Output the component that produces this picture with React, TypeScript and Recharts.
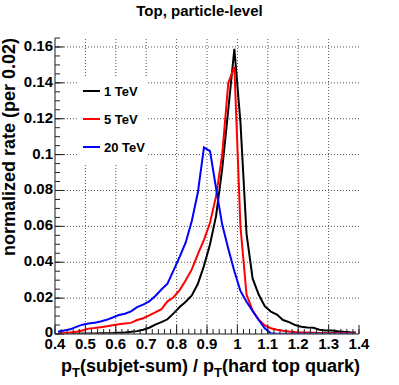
import { LineChart, Line, XAxis, YAxis, Legend, Label } from "recharts";

// bin centres, bin width 0.02
const binCenters = [
  0.41, 0.43, 0.45, 0.47, 0.49, 0.51, 0.53, 0.55, 0.57, 0.59,
  0.61, 0.63, 0.65, 0.67, 0.69, 0.71, 0.73, 0.75, 0.77, 0.79,
  0.81, 0.83, 0.85, 0.87, 0.89, 0.91, 0.93, 0.95, 0.97, 0.99,
  1.01, 1.03, 1.05, 1.07, 1.09, 1.11, 1.13, 1.15, 1.17, 1.19,
  1.21, 1.23, 1.25, 1.27, 1.29, 1.31, 1.33, 1.35, 1.37, 1.39,
];

const tev1 = [
  0.0002, 0.0002, 0.0002, 0.0002, 0.0003, 0.0003, 0.0003, 0.0004, 0.0004, 0.0005,
  0.0007, 0.0009, 0.0012, 0.0016, 0.0024, 0.0035, 0.0052, 0.0066, 0.0082, 0.0115,
  0.015, 0.018, 0.0215, 0.028, 0.038, 0.05, 0.066, 0.092, 0.125, 0.159,
  0.118, 0.056, 0.031, 0.022, 0.0155, 0.0125, 0.0108, 0.0078, 0.0066, 0.005,
  0.004, 0.0036, 0.0035, 0.0024, 0.002, 0.0019, 0.0015, 0.0012, 0.001, 0.0009,
];

const tev5 = [
  0.0003, 0.0005, 0.0008, 0.0013, 0.002, 0.003, 0.0033, 0.0038, 0.0043, 0.0049,
  0.0054, 0.0059, 0.0062, 0.0078, 0.0088, 0.0104, 0.012, 0.0138, 0.0182, 0.0205,
  0.0245, 0.03, 0.036, 0.0445, 0.0525, 0.062, 0.077, 0.1, 0.14, 0.149,
  0.06, 0.022, 0.013, 0.008, 0.0048, 0.0032, 0.0024, 0.0018, 0.0014, 0.0011,
  0.0009, 0.0008, 0.0007, 0.0006, 0.0006, 0.0005, 0.0005, 0.0004, 0.0004, 0.0004,
];

const tev20 = [
  0.0012, 0.0019, 0.0026, 0.004, 0.0052, 0.0058, 0.0063, 0.007, 0.0079, 0.0092,
  0.0106, 0.0113, 0.0126, 0.015, 0.0164, 0.0182, 0.0212, 0.0248, 0.028, 0.0355,
  0.043, 0.051, 0.063, 0.079, 0.104, 0.102, 0.081, 0.061, 0.0475, 0.035,
  0.024, 0.018, 0.0128, 0.0078, 0.0032, 0.0004, 0.0001, 0.0001, 0.0001, 0.0001,
  0.0001, 0.0001, 0.0001, 0.0001, 0.0001, 0.0001, 0.0001, 0.0001, 0.0001, 0.0001,
];

const xMajorTicks = [0.4, 0.5, 0.6, 0.7, 0.8, 0.9, 1, 1.1, 1.2, 1.3, 1.4];
const yMajorTicks = [0, 0.02, 0.04, 0.06, 0.08, 0.1, 0.12, 0.14, 0.16];

// minor tick positions (ROOT style: 5 per x division, 4 per y division)
const xTicks = Array.from({ length: 51 }, (_, i) => +(0.4 + i * 0.02).toFixed(2));
const yTicks = Array.from({ length: 34 }, (_, i) => +(i * 0.005).toFixed(3));

const X_DOMAIN = [0.4, 1.4];
const Y_DOMAIN = [0, 0.165];

const series = [
  { key: "tev1", name: "1 TeV", color: "#000000" },
  { key: "tev5", name: "5 TeV", color: "#ff0000" },
  { key: "tev20", name: "20 TeV", color: "#0000ff" },
];

const data = binCenters.map((x, i) => ({ x, tev1: tev1[i], tev5: tev5[i], tev20: tev20[i] }));

// dotted grid at the major divisions, drawn as two-point series through the axes' scales
const hGrid = yMajorTicks.slice(1).map((v) => [{ x: X_DOMAIN[0], g: v }, { x: X_DOMAIN[1], g: v }]);
const vGrid = xMajorTicks.slice(1, -1).map((v) => [{ x: v, g: Y_DOMAIN[0] }, { x: v, g: Y_DOMAIN[1] }]);

const FONT = "'Liberation Sans', Arial, Helvetica, sans-serif";
const TICK = "#222";
const FRAME = "#666";
const GRID = "#555";

const isMajor = (list: number[], v: number) => list.some((m) => Math.abs(m - v) < 1e-6);

const BottomTick = (props: any) => {
  const x = Number(props.x);
  const y = Number(props.y);
  const v = props.payload.value;
  if (!isMajor(xMajorTicks, v)) return <g />;
  return (
    <g>
      <path d={`M${x},${y}V${y - 9}`} fill="none" stroke={TICK} strokeWidth={1} />
      <text x={x} y={y + 15} textAnchor="middle" fontFamily={FONT} fontWeight="bold" fontSize={15} fill="#000">
        {String(v)}
      </text>
    </g>
  );
};

const LeftTick = (props: any) => {
  const x = Number(props.x);
  const y = Number(props.y);
  const v = props.payload.value;
  if (!isMajor(yMajorTicks, v)) return <g />;
  return (
    <g>
      <path d={`M${x},${y}H${x + 9}`} fill="none" stroke={TICK} strokeWidth={1} />
      <text x={x - 2} y={y + (v === 0 ? 3 : 4)} textAnchor="end" fontFamily={FONT} fontWeight="bold" fontSize={15} fill="#000">
        {String(v)}
      </text>
    </g>
  );
};

const YTitle = ({ viewBox }: any) => {
  const tx = 15;
  const ty = viewBox.y;
  return (
    <text
      x={tx}
      y={ty}
      transform={`rotate(-90, ${tx}, ${ty})`}
      textAnchor="end"
      fontFamily={FONT}
      fontWeight="bold"
      fontSize={18}
      fill="#000"
    >
      normalized rate (per 0.02)
    </text>
  );
};

const XTitle = ({ viewBox }: any) => {
  const tx = viewBox.x + viewBox.width + 1;
  const ty = 372;
  return (
    <text x={tx} y={ty} textAnchor="end" fontFamily={FONT} fontWeight="bold" fontSize={18} fill="#000">
      <tspan>p</tspan>
      <tspan fontSize={13} dy={5}>T</tspan>
      <tspan dy={-5}>(subjet-sum) / p</tspan>
      <tspan fontSize={13} dy={5}>T</tspan>
      <tspan dy={-5}>(hard top quark)</tspan>
    </text>
  );
};

const LegendBox = () => (
  <div style={{ background: "#fff", width: 70, height: 86 }}>
    {series.map((s) => (
      <div key={s.key} style={{ height: 28, display: "flex", alignItems: "center" }}>
        <span style={{ display: "inline-block", width: 17, height: 2, background: s.color, marginLeft: 5, marginRight: 4 }} />
        <span style={{ fontFamily: FONT, fontWeight: "bold", fontSize: 13, color: "#000" }}>{s.name}</span>
      </div>
    ))}
  </div>
);

export default function App() {
  return (
    <div style={{ position: "absolute", left: 0, top: 0, width: 399, height: 385, background: "#fff" }}>
      <div
        style={{
          position: "absolute",
          top: 3,
          left: 0,
          width: 399,
          textAlign: "center",
          fontFamily: FONT,
          fontWeight: "bold",
          fontSize: 15,
          lineHeight: "15px",
          zIndex: 2,
        }}
      >
        Top, particle-level
      </div>
      <LineChart width={399} height={385} data={data} margin={{ top: 38, right: 40, left: 10, bottom: 0 }}>
        <XAxis
          xAxisId="b"
          dataKey="x"
          type="number"
          domain={X_DOMAIN}
          ticks={xTicks}
          interval={0}
          tick={(p: any) => <BottomTick {...p} />}
          tickLine={{ stroke: TICK }}
          tickSize={-5}
          tickMargin={5}
          height={51}
          axisLine={{ stroke: FRAME, strokeWidth: 1.5 }}
          allowDataOverflow
        >
          <Label content={<XTitle />} />
        </XAxis>
        <XAxis
          xAxisId="t"
          orientation="top"
          dataKey="x"
          type="number"
          domain={X_DOMAIN}
          ticks={xTicks}
          interval={0}
          tick={false}
          tickLine={{ stroke: TICK }}
          tickSize={-5}
          height={0}
          axisLine={{ stroke: FRAME, strokeWidth: 1.5 }}
          allowDataOverflow
        />
        <YAxis
          yAxisId="l"
          type="number"
          domain={Y_DOMAIN}
          ticks={yTicks}
          interval={0}
          tick={(p: any) => <LeftTick {...p} />}
          tickLine={{ stroke: TICK }}
          tickSize={-5}
          tickMargin={5}
          width={45}
          axisLine={{ stroke: FRAME, strokeWidth: 1.5 }}
          allowDataOverflow
        >
          <Label content={<YTitle />} />
        </YAxis>
        <YAxis
          yAxisId="r"
          orientation="right"
          type="number"
          domain={Y_DOMAIN}
          ticks={yTicks}
          interval={0}
          tick={false}
          tickLine={{ stroke: TICK }}
          tickSize={-5}
          width={0}
          axisLine={{ stroke: FRAME, strokeWidth: 1.5 }}
          allowDataOverflow
        />
        <Legend
          layout="vertical"
          align="center"
          verticalAlign="middle"
          wrapperStyle={{ left: 78, top: 77, width: 70, height: 86 }}
          content={<LegendBox />}
        />
        {hGrid.map((pts, i) => (
          <Line
            key={`h${i}`}
            xAxisId="b"
            yAxisId="l"
            data={pts}
            dataKey="g"
            type="linear"
            stroke={GRID}
            strokeWidth={1}
            strokeDasharray="1 2"
            dot={false}
            activeDot={false}
            legendType="none"
            isAnimationActive={false}
          />
        ))}
        {vGrid.map((pts, i) => (
          <Line
            key={`v${i}`}
            xAxisId="b"
            yAxisId="l"
            data={pts}
            dataKey="g"
            type="linear"
            stroke={GRID}
            strokeWidth={1}
            strokeDasharray="1 2"
            dot={false}
            activeDot={false}
            legendType="none"
            isAnimationActive={false}
          />
        ))}
        {series.map((s) => (
          <Line
            key={s.key}
            xAxisId="b"
            yAxisId="l"
            type="linear"
            dataKey={s.key}
            name={s.name}
            stroke={s.color}
            strokeWidth={2}
            dot={false}
            activeDot={false}
            isAnimationActive={false}
          />
        ))}
      </LineChart>
    </div>
  );
}
